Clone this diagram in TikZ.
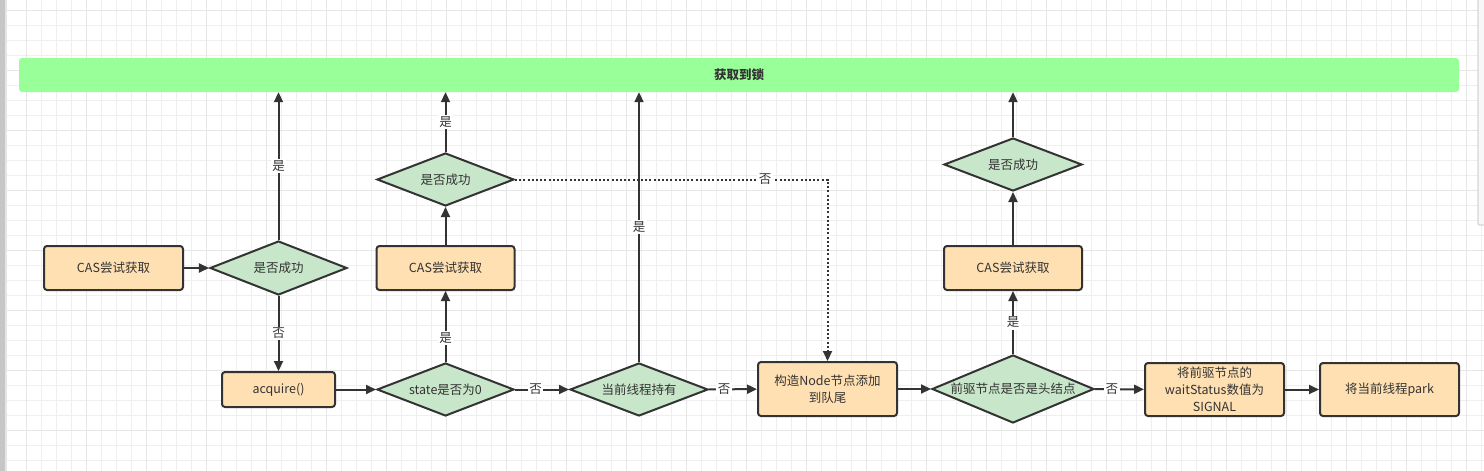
\documentclass[tikz,border=0pt]{standalone}
\usepackage{fontspec}
\setmainfont{Noto Sans CJK SC}
\usetikzlibrary{shapes.geometric,arrows.meta}
\definecolor{boxfill}{HTML}{FFE0B2}
\definecolor{decfill}{HTML}{C8E6C9}
\definecolor{bannerc}{HTML}{99FF99}
\definecolor{ink}{HTML}{333333}
\definecolor{gridc}{HTML}{EFEFEF}
\definecolor{gridm}{HTML}{E6E6E6}
\begin{document}
\begin{tikzpicture}[x=1pt,y=-1pt,
  every node/.style={font=\fontsize{12.5}{17}\selectfont, text=ink},
  proc/.style={rectangle, draw=ink, line width=2pt, fill=boxfill, rounded corners=3pt, align=center, inner sep=0pt},
  dec/.style={diamond, draw=ink, line width=2pt, fill=decfill, inner sep=0pt},
  banner/.style={rectangle, fill=bannerc, rounded corners=3pt, minimum width=1440pt, minimum height=34pt, font=\fontsize{12.5}{17}\selectfont\bfseries},
  arr/.style={draw=ink, line width=2pt, -{Triangle[length=10pt,width=9pt]}},
  dots/.style={dash pattern=on 2pt off 2.2pt},
  lbl/.style={fill=white, inner sep=1.5pt}
]
\useasboundingbox (0,0) rectangle (1484,471);
\fill[white] (0,0) rectangle (1484,471);
% grid
\foreach \x in {26,41,...,1481} \draw[gridc, line width=0.8pt] (\x,0) -- (\x,471);
\foreach \y in {10,25,...,470} \draw[gridc, line width=0.8pt] (0,\y) -- (1484,\y);
\foreach \x in {26,86,...,1481} \draw[gridm, line width=0.8pt] (\x,0) -- (\x,471);
\foreach \y in {10,70,...,470} \draw[gridm, line width=0.8pt] (0,\y) -- (1484,\y);
% window edges
\fill[gray!45] (0,0) rectangle (5,471);
\fill[gray!20] (5,0) rectangle (7,471);
\draw[gray!55, fill=gray!6, rounded corners=1pt, line width=0.6pt] (1478,-3) rectangle (1487,225);

% nodes
\node[banner] (lock) at (739,75) {获取到锁};
\node[proc, minimum width=139pt, minimum height=44pt] (cas1) at (113.5,268) {CAS尝试获取};
\node[dec, minimum width=137pt, minimum height=54pt] (d1) at (278.5,268) {\makebox[0pt]{是否成功}};
\node[proc, minimum width=113pt, minimum height=35pt] (acq) at (278.5,389.5) {acquire()};
\node[dec, minimum width=137pt, minimum height=53pt] (d2) at (445.5,389.5) {\makebox[0pt]{state是否为0}};
\node[proc, minimum width=138pt, minimum height=44pt] (cas2) at (445.5,268) {CAS尝试获取};
\node[dec, minimum width=137pt, minimum height=53pt] (d3) at (445.5,179.5) {\makebox[0pt]{是否成功}};
\node[dec, minimum width=138pt, minimum height=53pt] (d4) at (639,389.5) {\makebox[0pt]{当前线程持有}};
\node[proc, minimum width=139pt, minimum height=54pt] (nd) at (827.5,389) {构造Node节点添加\\到队尾};
\node[dec, minimum width=162pt, minimum height=68pt] (d5) at (1013,389) {\makebox[0pt]{前驱节点是否是头结点}};
\node[proc, minimum width=138pt, minimum height=44pt] (cas3) at (1013,268) {CAS尝试获取};
\node[dec, minimum width=138pt, minimum height=53pt] (d6) at (1013,164.5) {\makebox[0pt]{是否成功}};
\node[proc, minimum width=139pt, minimum height=53pt] (ws) at (1214.5,389.5) {将前驱节点的\\waitStatus数值为\\SIGNAL};
\node[proc, minimum width=139pt, minimum height=53pt] (park) at (1389.5,389.5) {将当前线程park};

% connectors
\draw[arr] (cas1) -- (d1);
\draw[arr] (d1.north) -- node[lbl]{是} (d1.north |- lock.south);
\draw[arr] (d1) -- node[lbl]{否} (acq);
\draw[arr] (acq) -- (d2);
\draw[arr] (d2) -- node[lbl,pos=0.34]{是} (cas2);
\draw[arr] (cas2) -- (d3);
\draw[arr] (d3.north) -- node[lbl]{是} (d3.north |- lock.south);
\draw[arr, dots] (d3.east) -| node[lbl,pos=0.4]{否} (nd.north);
\draw[arr] (d2) -- node[lbl,pos=0.38]{否} (d4);
\draw[arr] (d4.north) -- node[lbl]{是} (d4.north |- lock.south);
\draw[arr] (d4) -- node[lbl,pos=0.32]{否} (nd);
\draw[arr] (nd) -- (d5);
\draw[arr] (d5) -- node[lbl]{是} (cas3);
\draw[arr] (cas3) -- (d6);
\draw[arr] (d6.north) -- (d6.north |- lock.south);
\draw[arr] (d5) -- node[lbl,pos=0.35]{否} (ws);
\draw[arr] (ws) -- (park);
\end{tikzpicture}
\end{document}
